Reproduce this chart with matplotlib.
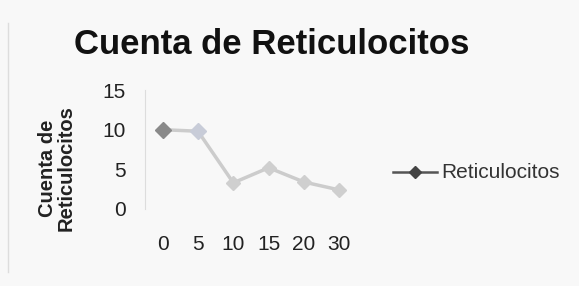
import matplotlib
matplotlib.use('Agg')
import matplotlib.pyplot as plt

# data
tiempos = ['0', '5', '10', '15', '20', '30']
reticulocitos = [10, 9.8, 3.3, 5.2, 3.4, 2.4]
y_ticks = [0, 5, 10, 15]

plt.rcParams['font.family'] = ['Liberation Sans', 'DejaVu Sans']

fig = plt.figure(figsize=(5.79, 2.86), dpi=100)
fig.patch.set_facecolor('#f8f8f8')

ax = fig.add_axes([145 / 579, 77 / 286, 212 / 579, 119 / 286])
ax.set_facecolor('none')
x = range(len(tiempos))
ax.plot(x, reticulocitos, color='#cccccc', lw=2.5, marker='D', ms=7,
        mfc='#cfcfcf', mec='#cfcfcf', zorder=2)
ax.plot([0], [reticulocitos[0]], ls='none', marker='D', ms=8,
        color='#8a8a8a', zorder=3)
ax.plot([1], [reticulocitos[1]], ls='none', marker='D', ms=8,
        color='#c8ccd8', zorder=3)

ax.set_xlim(-0.5, len(tiempos) - 0.5)
ax.set_ylim(0, 15)
ax.set_xticks(list(x))
ax.set_xticklabels(tiempos)
ax.set_yticks(y_ticks)
ax.tick_params(axis='x', length=0, pad=19, labelsize=15, colors='#222222')
ax.tick_params(axis='y', length=0, pad=14, labelsize=15, colors='#222222')
for s in ['top', 'right', 'bottom']:
    ax.spines[s].set_visible(False)
ax.spines['left'].set_color('#dddddd')

fig.text(57 / 579, 1 - 168 / 286, 'Cuenta de\nReticulocitos', rotation=90,
         ha='center', va='center', fontsize=14.5, fontweight='bold',
         color='#222222', linespacing=0.95)

fig.text(272 / 579, 1 - 44 / 286, 'Cuenta de Reticulocitos', ha='center',
         va='center', fontsize=25, fontweight='bold', color='#111111')

# legend
fig.lines.append(plt.Line2D([393 / 579, 437 / 579], [1 - 172 / 286] * 2,
                            color='#555555', lw=1.8, transform=fig.transFigure))
fig.lines.append(plt.Line2D([415 / 579], [1 - 172 / 286], marker='D', ms=6,
                            color='#444444', transform=fig.transFigure))
fig.text(441 / 579, 1 - 172 / 286, 'Reticulocitos', ha='left', va='center',
         fontsize=15, color='#333333')

# faint left border of the scan
fig.lines.append(plt.Line2D([8 / 579] * 2, [0.05, 0.92], color='#dddddd',
                            lw=1, transform=fig.transFigure))

fig.savefig('out.png', dpi=100, facecolor=fig.get_facecolor())
